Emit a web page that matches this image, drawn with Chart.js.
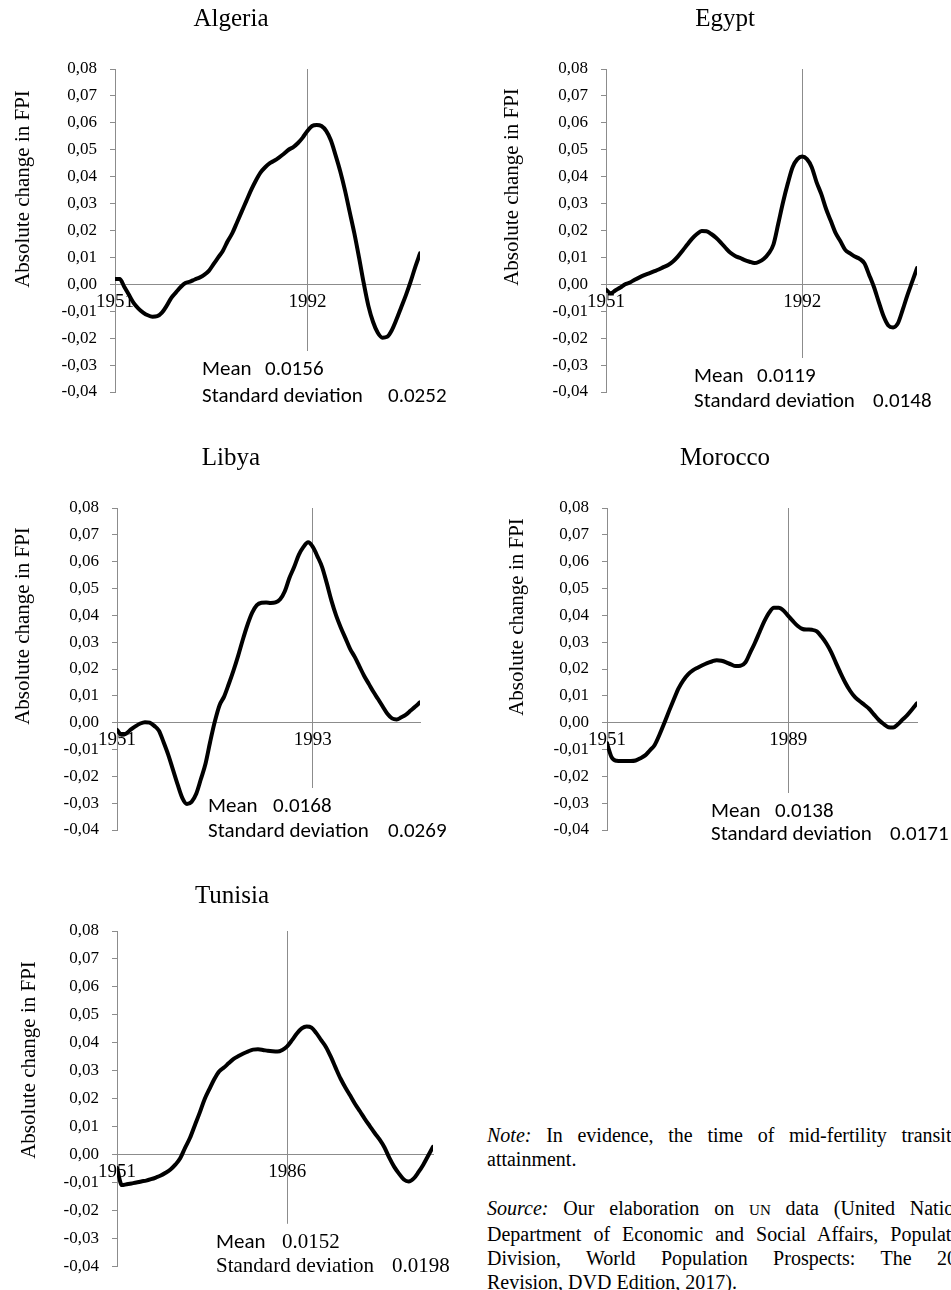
<!DOCTYPE html>
<html><head><meta charset="utf-8">
<script src="https://cdn.jsdelivr.net/npm/chart.js@4.4.0/dist/chart.umd.min.js"></script>
<style>
html,body{margin:0;padding:0;background:#fff;width:951px;height:1290px;overflow:hidden;}
canvas{position:absolute;}
.txt{position:absolute;left:487px;width:490px;font-family:"Liberation Serif","Times New Roman",serif;font-size:20px;line-height:24px;color:#000;}
.j{text-align:justify;text-align-last:justify;}
.l{text-align:left;}
.sc{font-size:15px;}
</style></head>
<body>
<canvas id="c0" width="475" height="430" style="left:0px;top:0px"></canvas>
<canvas id="c1" width="475" height="430" style="left:476px;top:0px"></canvas>
<canvas id="c2" width="475" height="430" style="left:0px;top:439px"></canvas>
<canvas id="c3" width="475" height="430" style="left:476px;top:439px"></canvas>
<canvas id="c4" width="475" height="413" style="left:0px;top:877px"></canvas>
<div class="txt" style="top:1123px">
  <div class="j"><i>Note:</i> In evidence, the time of mid-fertility transition</div>
  <div class="l">attainment.</div>
</div>
<div class="txt" style="top:1196px">
  <div class="j"><i>Source:</i> Our elaboration on <span class="sc">UN</span> data (United Nations,</div>
  <div class="j">Department of Economic and Social Affairs, Population</div>
  <div class="j">Division, World Population Prospects: The 2017</div>
  <div class="l">Revision, DVD Edition, 2017).</div>
</div>
<script>
// ---- data ----
const years = [1951,1952,1953,1954,1955,1956,1957,1958,1959,1960,
  1961,1962,1963,1964,1965,1966,1967,1968,1969,1970,
  1971,1972,1973,1974,1975,1976,1977,1978,1979,1980,
  1981,1982,1983,1984,1985,1986,1987,1988,1989,1990,
  1991,1992,1993,1994,1995,1996,1997,1998,1999,2000,
  2001,2002,2003,2004,2005,2006,2007,2008,2009,2010,
  2011,2012,2013,2014,2015,2016];
const countries = ['Algeria','Egypt','Libya','Morocco','Tunisia'];
const algeria = [0.002,0.002,-0.001,-0.004,-0.007,-0.009,-0.0105,-0.0115,-0.012,-0.0118,
  -0.0105,-0.008,-0.005,-0.003,-0.001,0.0005,0.001,0.0018,0.0025,0.0035,
  0.005,0.0075,0.010,0.0125,0.016,0.019,0.023,0.027,0.031,0.035,
  0.0385,0.0415,0.0435,0.045,0.046,0.0472,0.0485,0.050,0.051,0.0525,
  0.0545,0.057,0.0588,0.0592,0.0588,0.057,0.0535,0.048,0.042,0.035,
  0.027,0.019,0.010,0.0005,-0.008,-0.014,-0.018,-0.0198,-0.0195,-0.017,
  -0.013,-0.0085,-0.004,0.001,0.0065,0.0115];
const egypt = [-0.002,-0.0033,-0.0022,-0.0012,0.0,0.0007,0.0017,0.0026,0.0034,0.0041,
  0.0048,0.0055,0.0064,0.0072,0.0085,0.0103,0.0125,0.0148,0.017,0.0187,
  0.0198,0.0197,0.0187,0.0173,0.0155,0.0135,0.0117,0.0105,0.0098,0.009,
  0.0084,0.0079,0.0084,0.0095,0.0115,0.0148,0.0225,0.0305,0.0375,0.0435,
  0.0465,0.0475,0.0465,0.0435,0.038,0.0335,0.028,0.0235,0.019,0.016,
  0.0128,0.0115,0.0103,0.0095,0.0078,0.0035,-0.001,-0.0065,-0.0118,-0.0153,
  -0.016,-0.0145,-0.0095,-0.004,0.001,0.006];
const libya = [-0.0027,-0.0045,-0.004,-0.0025,-0.0013,-0.0003,0.0002,0.0,-0.0012,-0.003,
  -0.0073,-0.012,-0.0175,-0.023,-0.028,-0.0303,-0.0295,-0.0265,-0.021,-0.0152,
  -0.007,0.0005,0.0065,0.0098,0.0145,0.0195,0.025,0.031,0.0365,0.041,
  0.0438,0.0447,0.0448,0.0446,0.0448,0.046,0.049,0.054,0.058,0.0625,
  0.0655,0.0672,0.0655,0.062,0.058,0.052,0.0455,0.040,0.0355,0.0315,
  0.0275,0.0245,0.021,0.0175,0.0145,0.0115,0.0088,0.006,0.0033,0.0016,
  0.0012,0.002,0.003,0.0045,0.006,0.0076];
const morocco = [-0.0077,-0.013,-0.0142,-0.0143,-0.0143,-0.0143,-0.0141,-0.0133,-0.0122,-0.0103,
  -0.0083,-0.0045,-0.0002,0.0043,0.0086,0.0128,0.0158,0.018,0.0195,0.0205,
  0.0214,0.0222,0.0228,0.0233,0.0231,0.0225,0.0217,0.0211,0.0212,0.0224,
  0.026,0.0297,0.0338,0.0378,0.041,0.0428,0.0428,0.0418,0.0398,0.0378,
  0.036,0.0349,0.0347,0.0346,0.034,0.032,0.0295,0.0263,0.0223,0.0184,
  0.0148,0.0118,0.0095,0.008,0.0066,0.0051,0.003,0.001,-0.0005,-0.0017,
  -0.0018,-0.0006,0.0012,0.0029,0.005,0.0072];
const tunisia = [-0.0046,-0.0108,-0.0105,-0.0102,-0.0099,-0.0095,-0.0092,-0.0087,-0.0081,-0.0074,
  -0.0064,-0.0052,-0.0035,-0.0012,0.0025,0.006,0.0105,0.015,0.0198,0.0235,
  0.027,0.0298,0.0312,0.0328,0.0343,0.0353,0.0362,0.037,0.0376,0.0377,
  0.0375,0.0372,0.037,0.0369,0.0375,0.0388,0.041,0.0434,0.0452,0.0459,
  0.0455,0.0435,0.041,0.0385,0.035,0.031,0.0272,0.024,0.0211,0.0181,
  0.0155,0.0128,0.0103,0.0078,0.0055,0.0027,-0.001,-0.0042,-0.0067,-0.0088,
  -0.0095,-0.0085,-0.0062,-0.0035,-0.0003,0.0029];
const midYears = [1992,1992,1993,1989,1986];
const means = ['0.0156','0.0119','0.0168','0.0138','0.0152'];
const stdDevs = ['0.0252','0.0148','0.0269','0.0171','0.0198'];
const yTickValues = [-0.04,-0.03,-0.02,-0.01,0,0.01,0.02,0.03,0.04,0.05,0.06,0.07,0.08];
const seriesList = [algeria, egypt, libya, morocco, tunisia];

// ---- layout / style (not data) ----
const layoutCfg = [
  {pad:{left:42,right:55,top:0,bottom:38}, yW:73, tPad:{top:7,bottom:37}, mx:87, vx:150, sx:273, b1:-17, b2:10, tx:-92, ty:120},
  {pad:{left:57,right:34,top:0,bottom:38}, yW:73, tPad:{top:7,bottom:37}, mx:88, vx:151, sx:267, b1:-10, b2:15, tx:-94, ty:118},
  {pad:{left:42,right:55,top:0,bottom:39}, yW:75, tPad:{top:7,bottom:37}, mx:91, vx:156, sx:271, b1:-18, b2:7, tx:-94, ty:118},
  {pad:{left:57,right:34,top:0,bottom:39}, yW:74, tPad:{top:7,bottom:37}, mx:104, vx:168, sx:283, b1:-13, b2:10, tx:-90, ty:109},
  {pad:{left:31,right:42,top:0,bottom:13}, yW:86, tPad:{top:7,bottom:22}, mx:99, vx:165, sx:275, b1:-19, b2:5, tx:-88, ty:129, serifStats:true}
];
const GRAY = '#8c8c8c';
const SERIF = '"Liberation Serif","Times New Roman",serif';
const SANS = 'Carlito,Calibri,Lato,"Open Sans",sans-serif';
Chart.defaults.font.family = SERIF;
Chart.defaults.color = '#000';

const annotPlugin = {
  id: 'annot',
  beforeDatasetsDraw(chart, args, o) {
    const ctx = chart.ctx, a = chart.chartArea;
    ctx.save();
    ctx.fillStyle = '#fff';
    ctx.fillRect(a.left + o.mx - 8, a.bottom + o.b1 - 24, chart.width, chart.height);
    ctx.fillStyle = '#000';
    ctx.textAlign = 'left';
    ctx.textBaseline = 'alphabetic';
    ctx.font = '21px ' + SANS;
    ctx.fillText('Mean', a.left + o.mx, a.bottom + o.b1);
    ctx.font = (o.serifStats ? '21px ' + SERIF : '21px ' + SANS);
    ctx.fillText(o.mean, a.left + o.vx, a.bottom + o.b1);
    ctx.fillText('Standard deviation', a.left + o.mx, a.bottom + o.b2);
    ctx.fillText(o.sd, a.left + o.sx, a.bottom + o.b2);
    ctx.translate(a.left + o.tx, a.top + o.ty);
    ctx.rotate(-Math.PI / 2);
    ctx.textAlign = 'center';
    ctx.textBaseline = 'middle';
    ctx.font = '21px ' + SERIF;
    ctx.fillText('Absolute change in FPI', 0, 0);
    ctx.restore();
  }
};

countries.forEach((name, i) => {
  const L = layoutCfg[i];
  const vals = seriesList[i];
  const mark = midYears[i];
  new Chart(document.getElementById('c' + i), {
    type: 'line',
    data: {
      datasets: [{
        data: years.map((yr, k) => ({x: yr, y: vals[k]})),
        borderColor: '#000',
        borderWidth: 4,
        pointRadius: 0,
        cubicInterpolationMode: 'monotone',
        borderCapStyle: 'round',
        borderJoinStyle: 'round',
        fill: false
      }]
    },
    plugins: [annotPlugin],
    options: {
      responsive: false,
      animation: false,
      devicePixelRatio: 1,
      layout: {padding: L.pad},
      plugins: {
        legend: {display: false},
        tooltip: {enabled: false},
        title: {display: true, text: name, font: {family: SERIF, size: 25, weight: 'normal', lineHeight: 1}, color: '#000', padding: L.tPad},
        annot: Object.assign({mean: means[i], sd: stdDevs[i]}, L)
      },
      scales: {
        x: {
          type: 'linear',
          min: years[0], max: years[years.length - 1],
          position: {y: 0},
          afterBuildTicks: (s) => { s.ticks = [{value: years[0]}, {value: mark}]; },
          ticks: {autoSkip: false, maxRotation: 0, padding: 6, font: {family: SERIF, size: 19}, color: '#000',
                  callback: (v) => String(v)},
          grid: {drawTicks: false, drawOnChartArea: true, lineWidth: 1,
                 color: (c) => (c.tick && c.tick.value === mark) ? GRAY : 'rgba(0,0,0,0)'},
          border: {display: true, color: GRAY, width: 1}
        },
        y: {
          min: -0.04, max: 0.08,
          afterBuildTicks: (s) => { s.ticks = yTickValues.map(v => ({value: v})); },
          afterFit: (s) => { s.width = L.yW; },
          ticks: {padding: 13, font: {family: SERIF, size: 17}, color: '#000',
                  callback: (v) => v.toFixed(2).replace('.', ',')},
          grid: {drawOnChartArea: false, drawTicks: true, tickLength: 5, color: GRAY},
          border: {display: true, color: GRAY, width: 1}
        }
      }
    }
  });
});
</script>
</body></html>
